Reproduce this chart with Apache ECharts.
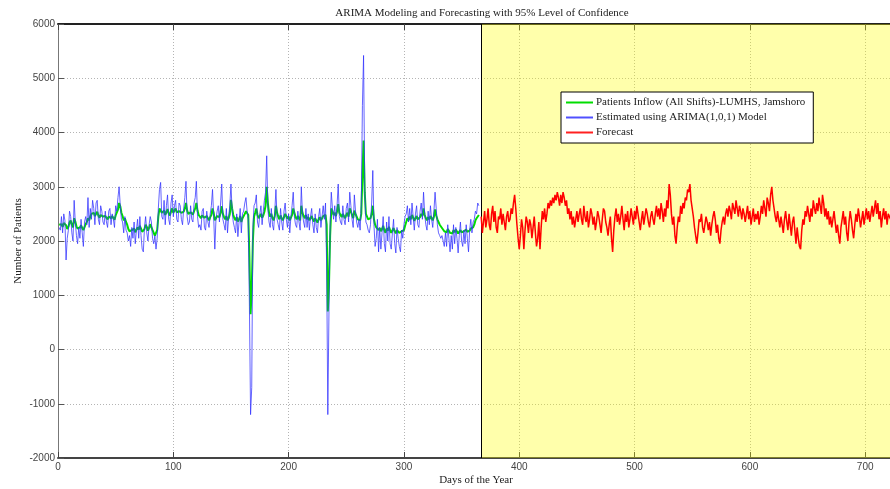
<!DOCTYPE html>
<html><head><meta charset="utf-8">
<script src="https://cdn.jsdelivr.net/npm/echarts@6/dist/echarts.min.js"></script>
<style>html,body{margin:0;padding:0;background:#fff;overflow:hidden}#c{width:890px;height:489px}</style>
</head><body><div id="c"></div>
<script>
const titleText = 'ARIMA Modeling and Forecasting with 95% Level of Confidence';
const seriesNames = ['Patients Inflow (All Shifts)-LUMHS, Jamshoro', 'Estimated using ARIMA(1,0,1) Model', 'Forecast'];
const actualStartDay = 1;
const actual = [
2300,2280,2310,2260,2330,2350,2290,2220,2260,2340,
2380,2300,2250,2420,2360,2270,2230,2210,2250,2290,
2240,2200,2230,2310,2350,2420,2380,2450,2500,2480,
2520,2460,2490,2540,2470,2430,2480,2510,2450,2420,
2460,2430,2400,2450,2480,2420,2460,2440,2390,2470,
2500,2580,2700,2640,2520,2460,2380,2420,2350,2300,
2220,2180,2150,2200,2170,2230,2160,2190,2250,2210,
2280,2230,2170,2150,2220,2300,2260,2190,2240,2310,
2280,2200,2150,2100,2080,2200,2450,2600,2580,2520,
2500,2560,2480,2530,2590,2510,2470,2540,2600,2520,
2560,2600,2530,2500,2550,2580,2520,2490,2540,2600,
2700,2560,2500,2480,2530,2510,2490,2550,2600,2700,
2560,2480,2450,2420,2470,2500,2430,2400,2460,2420,
2380,2440,2480,2600,2520,2380,2420,2460,2490,2440,
2520,2640,2500,2440,2400,2460,2380,2420,2500,2760,
2600,2480,2420,2380,2440,2360,2400,2460,2350,2420,
2450,2500,2550,2520,2480,1700,650,1100,2000,2450,
2520,2600,2480,2420,2450,2500,2430,2470,2540,2650,
3000,2700,2520,2450,2500,2420,2380,2460,2650,2520,
2450,2400,2470,2420,2380,2440,2500,2460,2410,2450,
2380,2430,2480,2600,2520,2440,2400,2460,2420,2380,
2650,2520,2460,2420,2480,2400,2440,2380,2420,2460,
2400,2360,2420,2380,2340,2400,2440,2380,2420,2460,
2440,2480,2300,700,1200,2100,2600,2550,2480,2520,
2460,2550,2680,2520,2480,2440,2500,2460,2420,2480,
2520,2450,2600,2540,2480,2420,2560,2500,2450,2400,
2420,2380,2500,3200,3850,2900,2500,2450,2400,2380,
2420,2500,2650,2400,2300,2250,2280,2200,2240,2180,
2220,2280,2200,2150,2230,2190,2260,2200,2150,2180,
2240,2180,2140,2200,2170,2150,2120,2180,2160,2200,
2280,2350,2420,2380,2450,2400,2480,2430,2370,2420,
2460,2400,2380,2440,2500,2460,2600,2480,2420,2380,
2440,2400,2460,2420,2380,2450,2580,2470,2400,2350,
2300,2270,2240,2220,2180,2200,2160,2220,2190,2150,
2180,2140,2200,2160,2210,2180,2140,2170,2200,2160,
2140,2180,2150,2210,2170,2140,2190,2230,2200,2250,
2300,2380,2420,2450,2480];
const estimated = [
2250,2200,2450,2150,2500,2380,1650,2050,2200,2550,
2450,2150,2000,2750,2350,2100,1950,2250,2050,2400,
2150,1900,2350,2450,2300,2800,2250,2600,2400,2750,
2600,2300,2700,2750,2400,2300,2650,2550,2350,2300,
2550,2350,2250,2550,2600,2300,2500,2400,2250,2650,
2550,2800,3000,2650,2400,2350,2150,2450,2200,2150,
2000,2100,1900,2250,2050,2350,1950,2200,2400,2050,
2450,2100,1850,1800,2250,2450,2150,2000,2300,2450,
2350,2050,1950,2100,1850,2050,2600,2950,3080,2450,
2400,2750,2300,2650,2850,2400,2300,2700,2850,2450,
2650,2750,2400,2350,2700,2650,2400,2300,2600,2800,
3100,2450,2300,2350,2650,2400,2350,2700,2800,3100,
2450,2250,2300,2200,2550,2600,2250,2200,2550,2350,
2250,2500,2650,2950,2450,1850,2400,2550,2650,2350,
2700,3050,2400,2300,2200,2600,2150,2450,2650,3050,
2550,2350,2250,2150,2500,2080,2350,2600,2150,2500,
2550,2700,2800,2550,2400,800,-1200,-700,2250,2650,
2700,2850,2350,2250,2500,2650,2300,2550,2750,2900,
3570,2600,2350,2250,2600,2300,2200,2550,2950,2400,
2300,2200,2600,2350,2200,2550,2700,2400,2250,2500,
2150,2450,2650,2900,2450,2300,2250,2550,2350,2200,
3000,2500,2350,2250,2600,2250,2500,2200,2450,2600,
2300,2150,2500,2250,2150,2450,2600,2250,2450,2650,
2400,2700,1500,-1200,700,2300,2900,2600,2400,2650,
2350,2650,3050,2450,2350,2300,2650,2400,2300,2600,
2700,2350,2900,2650,2400,2250,2850,2550,2350,2250,
2400,2200,2650,4500,5420,3000,2350,2300,2200,2150,
2300,2700,3300,2300,1900,2050,2400,1800,2250,1850,
2150,2450,1950,1800,2350,2000,2450,1950,1850,2150,
2400,1950,1780,2250,2050,1900,1800,2200,2050,2300,
2450,2500,2650,2350,2600,2300,2700,2450,2200,2500,
2650,2300,2250,2550,2700,2400,2900,2500,2300,2200,
2550,2300,2650,2400,2250,2550,2900,2600,2300,2150,
2100,2050,2100,2000,1900,2150,1900,2300,2050,1800,
2100,1850,2300,1950,2250,2050,1780,2100,2350,2000,
1900,2200,1950,2300,2050,1800,2200,2400,2150,2350,
2400,2550,2500,2700,2650];
const forecastStartDay = 367;
const forecast = [
2450,2150,2350,2550,2250,2400,2600,2300,2200,2500,
2650,2350,2550,2250,2150,2450,2400,2600,2300,2500,
2350,2200,2450,2550,2350,2400,2600,2500,2700,2850,
2600,2300,2050,1850,2100,2400,2250,1850,2200,2450,
2350,2150,2400,2300,2050,2250,2450,2150,1900,2050,
2350,1850,2250,2550,2400,2600,2350,2500,2700,2600,
2750,2650,2800,2700,2850,2750,2900,2800,2650,2850,
2700,2900,2800,2650,2750,2500,2600,2400,2550,2300,
2450,2250,2400,2550,2350,2500,2600,2400,2300,2650,
2450,2350,2550,2250,2400,2600,2500,2300,2450,2200,
2350,2550,2450,2300,2150,2400,2600,2550,2350,2250,
2100,2300,2450,2050,1800,2200,2450,2600,2350,2500,
2300,2450,2650,2400,2200,2500,2350,2550,2250,2400,
2600,2450,2300,2550,2400,2650,2500,2350,2200,2400,
2550,2300,2450,2600,2500,2350,2250,2450,2550,2400,
2300,2500,2650,2450,2600,2400,2700,2550,2350,2600,
2450,2750,2600,3050,2850,2500,2300,2450,2100,1950,
2250,2450,2350,2650,2500,2700,2600,2800,2750,2950,
2900,3050,2750,2600,2450,2250,2100,1950,2150,2400,
2350,2500,2250,2150,2300,2450,2350,2200,2350,2100,
2300,2450,2550,2400,2150,2300,2050,1950,2200,2350,
2450,2300,2500,2600,2450,2650,2550,2400,2700,2600,
2500,2750,2600,2450,2650,2550,2400,2600,2500,2350,
2500,2650,2400,2550,2300,2450,2600,2350,2500,2400,
2550,2300,2450,2650,2500,2750,2600,2450,2800,2700,
2550,2850,3000,2750,2600,2450,2350,2550,2400,2250,
2450,2300,2150,2400,2550,2350,2200,2500,2300,2100,
2350,2450,2200,1950,2250,2050,1900,1850,2200,2400,
2300,2550,2450,2650,2500,2350,2600,2450,2750,2600,
2500,2700,2550,2800,2650,2500,2850,2700,2450,2600,
2400,2550,2300,2450,2250,2400,2550,2350,2150,2300,
2100,1950,2250,2400,2550,2300,2450,2150,2000,2350,
2550,2400,2200,2050,2300,2500,2350,2600,2450,2250,
2400,2550,2300,2450,2600,2400,2550,2350,2500,2650,
2450,2600,2750,2500,2700,2400,2550,2250,2450,2600,
2400,2550,2300,2500,2450,2400,2550,2350];
const xMin = 0, xMax = 725, xStep = 100;
const yMin = -2000, yMax = 6000, yStep = 1000;

const toPairs = (arr, start) => arr.map((v, i) => [start + i, v]);
const serif = 'Liberation Serif';
const sans = 'Liberation Sans';
const chart = echarts.init(document.getElementById('c'), null, {renderer: 'canvas'});
const gridLine = {show: true, lineStyle: {color: '#b4b4b4', type: [1, 2], width: 1}};
chart.setOption({
  animation: false,
  backgroundColor: '#fff',
  title: {text: titleText, left: 477, top: 3, textAlign: 'center',
    textStyle: {fontFamily: serif, fontSize: 11, fontWeight: 'normal', color: '#222'}},
  legend: {
    orient: 'vertical', left: 561, top: 92, padding: [4, 8, 4, 5], itemGap: 2,
    itemWidth: 27, itemHeight: 2, icon: 'rect',
    backgroundColor: '#fff', borderColor: '#000', borderWidth: 1,
    data: [seriesNames[0], seriesNames[1], seriesNames[2]],
    textStyle: {fontFamily: serif, fontSize: 11, color: '#222', lineHeight: 13, padding: [0, 0, 0, -2]}
  },
  grid: {left: 58, right: -4, top: 24, bottom: 31, containLabel: false, outerBoundsMode: 'none'},
  xAxis: [{
    type: 'value', min: xMin, max: xMax, interval: xStep,
    name: 'Days of the Year', nameLocation: 'middle', nameGap: 17, nameMoveOverlap: false,
    nameTextStyle: {fontFamily: serif, fontSize: 11, color: '#222'},
    axisLine: {show: true, onZero: false, lineStyle: {color: '#444', width: 2}},
    axisTick: {show: true, inside: true, length: 6, lineStyle: {color: '#444'}},
    axisLabel: {fontFamily: sans, fontSize: 10, color: '#444', margin: 4,
      formatter: v => (v % xStep === 0 ? String(v) : '')},
    splitLine: gridLine
  }, {
    type: 'value', position: 'top', min: xMin, max: xMax, interval: xStep,
    axisLine: {show: true, onZero: false, lineStyle: {color: '#222', width: 2}},
    axisTick: {show: true, inside: true, length: 6, lineStyle: {color: '#444'}},
    axisLabel: {show: false}, splitLine: {show: false}
  }],
  yAxis: {
    type: 'value', min: yMin, max: yMax, interval: yStep,
    name: 'Number of Patients', nameLocation: 'middle', nameGap: 34, nameMoveOverlap: false,
    nameTextStyle: {fontFamily: serif, fontSize: 11, color: '#222'},
    axisLine: {show: true, onZero: false, lineStyle: {color: '#777', width: 1}},
    axisTick: {show: true, inside: true, length: 6, lineStyle: {color: '#555'}},
    axisLabel: {fontFamily: sans, fontSize: 10, color: '#444', margin: 3, formatter: v => String(v)},
    splitLine: gridLine
  },
  series: [
    {name: seriesNames[0], type: 'line', data: toPairs(actual, actualStartDay), showSymbol: false,
      color: '#00dd00', lineStyle: {width: 2, color: '#00dd00'}, z: 3},
    {name: seriesNames[1], type: 'line', data: toPairs(estimated, actualStartDay), showSymbol: false,
      color: '#5050ff', lineStyle: {width: 1, color: '#3030ff', opacity: 0.75}, z: 4},
    {name: seriesNames[2], type: 'line', data: toPairs(forecast, forecastStartDay), showSymbol: false,
      color: '#ff2020', lineStyle: {width: 1.5, color: '#ff0000'}, z: 5,
      markArea: {silent: true,
        itemStyle: {color: 'rgba(255,255,0,0.33)', borderWidth: 0},
        data: [[{xAxis: forecastStartDay}, {xAxis: xMax}]]},
      markLine: {silent: true, symbol: 'none', label: {show: false},
        lineStyle: {color: '#000', width: 1, type: 'solid'},
        data: [{xAxis: forecastStartDay}]}
    }
  ]
});
</script></body></html>
